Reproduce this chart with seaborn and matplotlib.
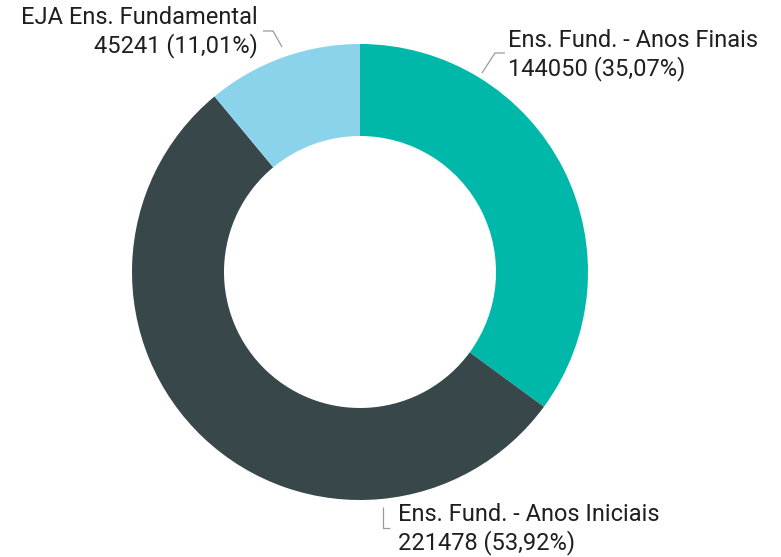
import matplotlib
matplotlib.use("Agg")
import matplotlib.pyplot as plt
import seaborn as sns

# Data
labels = ["Ens. Fund. - Anos Finais", "Ens. Fund. - Anos Iniciais", "EJA Ens. Fundamental"]
values = [144050, 221478, 45241]
percents = ["35,07%", "53,92%", "11,01%"]
colors = ["#00b8a9", "#37474a", "#8ad3ea"]

sns.set_theme(style="white")
plt.rcParams['font.family'] = ['Roboto', 'DejaVu Sans']

W, H = 781, 557
fig = plt.figure(figsize=(W / 100, H / 100), dpi=100)
ax = fig.add_axes([0, 0, 1, 1])

cx, cy = 360, H - 272
outer, inner = 228, 136
ax.pie(values, colors=sns.color_palette(colors), startangle=90, counterclock=False,
       center=(cx, cy), radius=outer, frame=True,
       wedgeprops=dict(width=outer - inner, linewidth=0))
ax.set_xlim(0, W)
ax.set_ylim(0, H)
ax.set_aspect("equal")
ax.axis("off")

def px(x, y):
    return x, H - y

line_kw = dict(color="#9a9a9a", lw=0.9, solid_capstyle="butt")
text_kw = dict(fontsize=17, color="#1f1f1f", linespacing=1.2)

# Anos Finais
xs, ys = zip(px(482, 73), px(495, 53), px(505, 53))
ax.plot(xs, ys, **line_kw)
ax.text(*px(508, 55), f"{labels[0]}\n{values[0]} ({percents[0]})",
        ha="left", va="center", **text_kw)

# Anos Iniciais
xs, ys = zip(px(383, 507), px(383, 528), px(390, 528))
ax.plot(xs, ys, **line_kw)
ax.text(*px(398, 529), f"{labels[1]}\n{values[1]} ({percents[1]})",
        ha="left", va="center", **text_kw)

# EJA
xs, ys = zip(px(282, 47), px(273, 31), px(263, 31))
ax.plot(xs, ys, **line_kw)
ax.text(*px(258, 32), f"{labels[2]}\n{values[2]} ({percents[2]})",
        ha="right", va="center", multialignment="right", **text_kw)

fig.savefig("out.png", dpi=100)
